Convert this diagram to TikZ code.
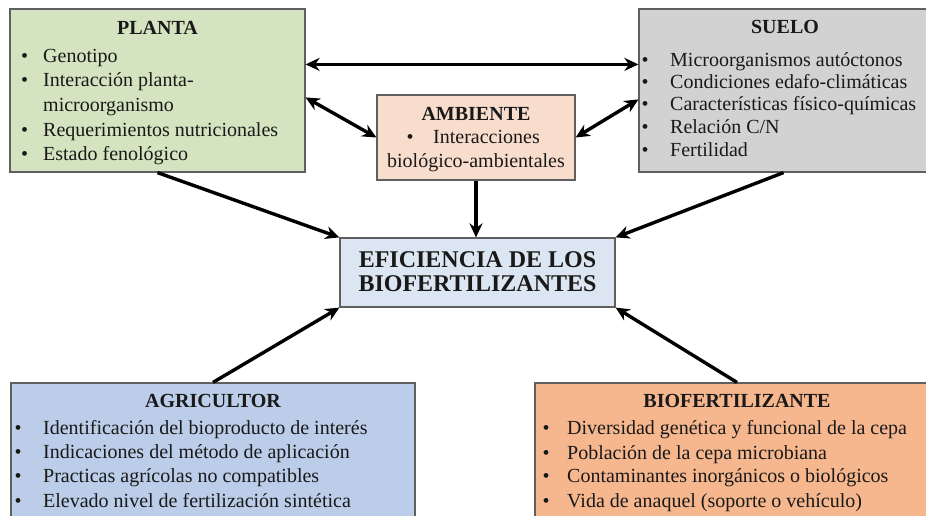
\documentclass[tikz,border=0pt]{standalone}
\usepackage{fontspec}
\setmainfont{Liberation Serif}
\usetikzlibrary{arrows.meta,calc}
\definecolor{cPlanta}{RGB}{212,228,192}
\definecolor{cSuelo}{RGB}{210,210,210}
\definecolor{cAmb}{RGB}{249,221,204}
\definecolor{cEfic}{RGB}{220,230,242}
\definecolor{cAgri}{RGB}{187,205,232}
\definecolor{cBio}{RGB}{246,183,142}
\definecolor{cBorder}{RGB}{95,95,95}
\definecolor{cText}{RGB}{25,25,25}
\newcommand{\bodyfont}{\fontsize{20}{24}\selectfont}
\newcommand{\Bul}[1]{\makebox[#1pt][l]{\textbullet}}
\begin{document}
\begin{tikzpicture}[x=1pt,y=-1pt,
  box/.style={draw=cBorder, line width=1.2pt, rectangle, inner sep=0pt},
  ttl/.style={anchor=base, inner sep=0pt, font=\fontsize{20}{24}\selectfont\bfseries, text=cText},
  itm/.style={anchor=base west, inner sep=0pt, font=\bodyfont, text=cText},
  arr/.style={line width=3.4pt, -{Stealth[length=14pt,width=13pt]}},
  darr/.style={line width=3.4pt, {Stealth[length=14pt,width=13pt]}-{Stealth[length=14pt,width=13pt]}}]
\useasboundingbox (0,0) rectangle (926,515);
\clip (0,0) rectangle (926,515);
\fill[white] (0,0) rectangle (926,515);

% boxes
\node[box, fill=cPlanta, minimum width=295pt, minimum height=163pt] (planta) at (157.5,90.5) {};
\node[box, fill=cSuelo, minimum width=289pt, minimum height=163pt] (suelo) at (783.5,90.5) {};
\node[box, fill=cAmb, minimum width=198pt, minimum height=85pt] (amb) at (476,137.5) {};
\node[box, fill=cEfic, minimum width=275pt, minimum height=69pt] (efic) at (477.5,272.5) {};
\node[box, fill=cAgri, minimum width=404pt, minimum height=147pt] (agri) at (213,456.5) {};
\node[box, fill=cBio, minimum width=404pt, minimum height=147pt] (bio) at (737,456.5) {};

% PLANTA text
\node[ttl] (plT) at (157.5,34) {PLANTA};
\node[itm] (pl1) at (21,62) {\Bul{22}Genotipo};
\node[itm] (pl2) at (21,86.5) {\Bul{22}Interacción planta-};
\node[itm] (pl3) at (21,111) {\hspace*{22pt}microorganismo};
\node[itm] (pl4) at (21,136) {\Bul{22}Requerimientos nutricionales};
\node[itm] (pl5) at (21,160.5) {\Bul{22}Estado fenológico};

% SUELO text
\node[ttl] (suT) at (785,33) {SUELO};
\node[itm] (su1) at (641.5,66) {\Bul{28.5}Microorganismos autóctonos};
\node[itm] (su2) at (641.5,88) {\Bul{28.5}Condiciones edafo-climáticas};
\node[itm] (su3) at (641.5,110) {\Bul{28.5}Características físico-químicas};
\node[itm] (su4) at (641.5,133) {\Bul{28.5}Relación C/N};
\node[itm] (su5) at (641.5,156) {\Bul{28.5}Fertilidad};

% AMBIENTE text
\node[ttl] (amT) at (476,120) {AMBIENTE};
\node[itm] (am1) at (406.5,143.5) {\Bul{26.5}Interacciones};
\node[itm, anchor=base] (am2) at (476,167.5) {biológico-ambientales};

% EFICIENCIA text
\node[ttl, font=\fontsize{24}{28}\selectfont\bfseries] (ef1) at (477.5,267) {EFICIENCIA DE LOS};
\node[ttl, font=\fontsize{24}{28}\selectfont\bfseries] (ef2) at (477.5,291) {BIOFERTILIZANTES};

% AGRICULTOR text
\node[ttl] (agT) at (213,407) {AGRICULTOR};
\node[itm] (ag1) at (14.5,434.5) {\Bul{28.5}Identificación del bioproducto de interés};
\node[itm] (ag2) at (14.5,458) {\Bul{28.5}Indicaciones del método de aplicación};
\node[itm] (ag3) at (14.5,482) {\Bul{28.5}Practicas agrícolas no compatibles};
\node[itm] (ag4) at (14.5,507.5) {\Bul{28.5}Elevado nivel de fertilización sintética};

% BIOFERTILIZANTE text
\node[ttl] (biT) at (737,407) {BIOFERTILIZANTE};
\node[itm] (bi1) at (542.5,434.5) {\Bul{24.5}Diversidad genética y funcional de la cepa};
\node[itm] (bi2) at (542.5,459) {\Bul{24.5}Población de la cepa microbiana};
\node[itm] (bi3) at (542.5,482) {\Bul{24.5}Contaminantes inorgánicos o biológicos};
\node[itm] (bi4) at (542.5,507) {\Bul{24.5}Vida de anaquel (soporte o vehículo)};

% connectors
\draw[darr] ([yshift=-56pt]planta.north east) -- ([yshift=-56pt]suelo.north west);
\draw[darr] ([yshift=-89pt]planta.north east) -- (amb.west);
\draw[darr] (amb.east) -- ([yshift=-91pt]suelo.north west);
\draw[arr] (planta.south) -- (efic.north west);
\draw[arr] (suelo.south) -- (efic.north east);
\draw[arr] (amb.south) -- (amb.south |- efic.north);
\draw[arr] (agri.north) -- (efic.south west);
\draw[arr] (bio.north) -- (efic.south east);
\end{tikzpicture}
\end{document}
